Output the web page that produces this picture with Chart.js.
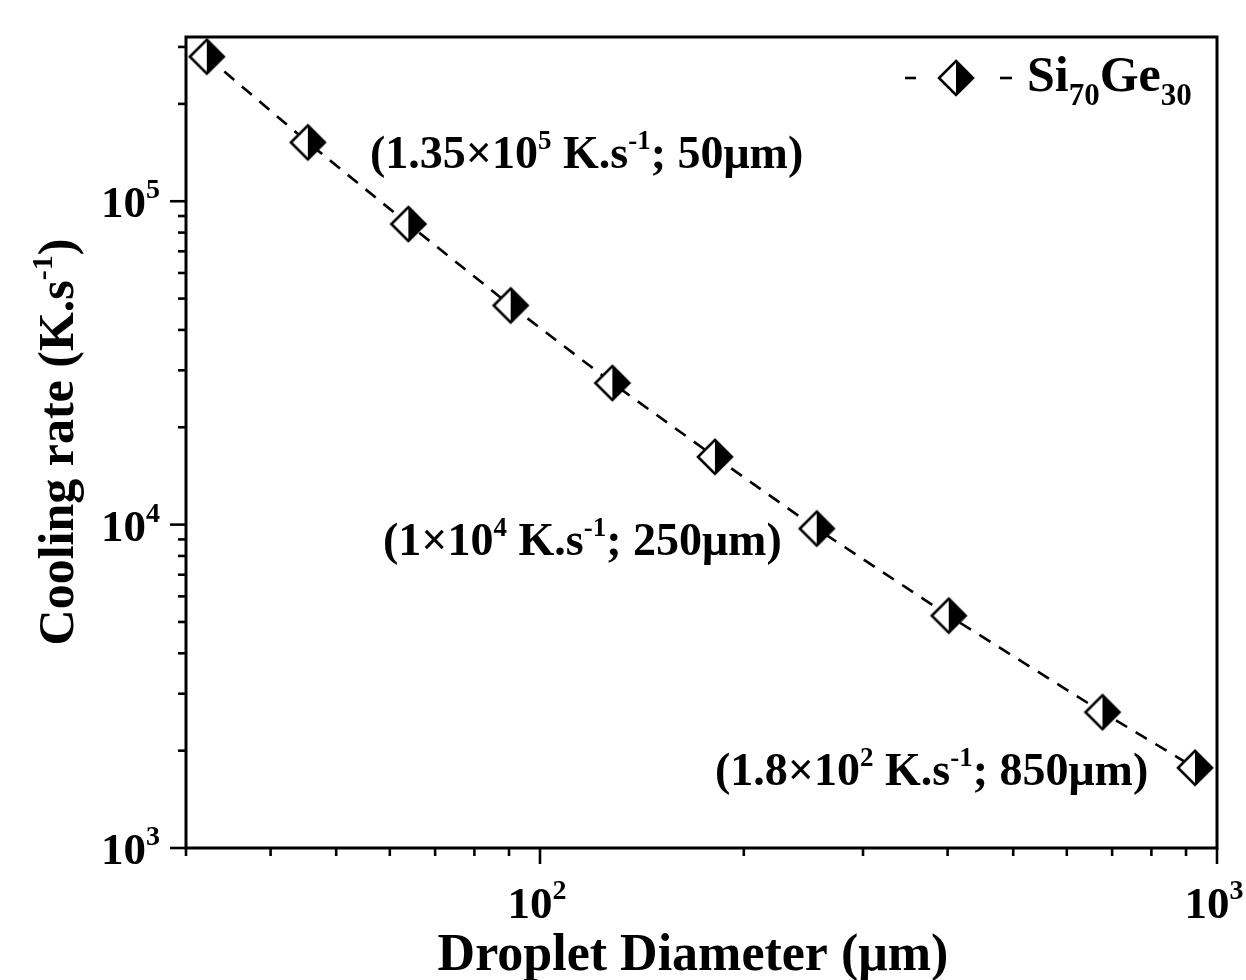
<!DOCTYPE html>
<html>
<head>
<meta charset="utf-8">
<script src="https://cdn.jsdelivr.net/npm/chart.js"></script>
<style>
  html, body { margin: 0; padding: 0; background: #fff; }
  canvas { display: block; }
</style>
</head>
<body>
<canvas id="grafico" width="1246" height="980"></canvas>
<script>
// dados (log-log)
const diameters = [32.2, 45.4, 63.9, 90.5, 127.9, 181.3, 256.3, 401.5, 677.4, 927.9];
const coolingRates = [2.80e5, 1.52e5, 8.50e4, 4.76e4, 2.74e4, 1.62e4, 9.72e3, 5.23e3, 2.63e3, 1.77e3];
const seriesName = ['Si', '70', 'Ge', '30'];

// rotulos dos eixos
const xTickValues = [100, 1000];
const xTickExp = ['2', '3'];
const yTickValues = [1e3, 1e4, 1e5];
const yTickExp = ['3', '4', '5'];

const FONT = '"Liberation Serif", "Times New Roman", serif';

// marcador: losango meio branco / meio preto
function halfDiamond() {
    const c = document.createElement('canvas');
    c.width = 42; c.height = 42;
    const g = c.getContext('2d');
    const m = 21, r = 17;
    g.fillStyle = '#fff';
    g.beginPath(); g.moveTo(m, m - r); g.lineTo(m - r, m); g.lineTo(m, m + r); g.closePath(); g.fill();
    g.fillStyle = '#000';
    g.beginPath(); g.moveTo(m, m - r); g.lineTo(m + r, m); g.lineTo(m, m + r); g.closePath(); g.fill();
    g.strokeStyle = '#000'; g.lineWidth = 2.6; g.lineJoin = 'miter';
    g.beginPath(); g.moveTo(m, m - r); g.lineTo(m + r, m); g.lineTo(m, m + r); g.lineTo(m - r, m); g.closePath(); g.stroke();
    return c;
}
const marker = halfDiamond();

// texto com sobrescrito (^) e subscrito (_)
function drawRich(ctx, parts, x, y, size, small, align) {
    const widths = parts.map(p => {
        ctx.font = 'bold ' + (p[1] ? small : size) + 'px ' + FONT;
        return ctx.measureText(p[0]).width;
    });
    const total = widths.reduce((a, b) => a + b, 0);
    let cx = align === 'center' ? x - total / 2 : align === 'right' ? x - total : x;
    ctx.textAlign = 'left';
    ctx.textBaseline = 'alphabetic';
    parts.forEach((p, i) => {
        ctx.font = 'bold ' + (p[1] ? small : size) + 'px ' + FONT;
        let dy = 0;
        if (p[1] === '^') dy = -size * 0.42;
        if (p[1] === '_') dy = size * 0.28;
        ctx.fillText(p[0], cx, y + dy);
        cx += widths[i];
    });
}

const annotations = [
    { parts: [['(1.35×10', ''], ['5', '^'], [' K.s', ''], ['-1', '^'], ['; 50μm)', '']], x: 370, y: 168 },
    { parts: [['(1×10', ''], ['4', '^'], [' K.s', ''], ['-1', '^'], ['; 250μm)', '']], x: 383, y: 555 },
    { parts: [['(1.8×10', ''], ['2', '^'], [' K.s', ''], ['-1', '^'], ['; 850μm)', '']], x: 715, y: 785 }
];

const decor = {
    id: 'decor',
    afterDraw(chart) {
        const ctx = chart.ctx;
        const a = chart.chartArea;
        const xs = chart.scales.x, ys = chart.scales.y;
        ctx.save();
        ctx.strokeStyle = '#000';
        ctx.fillStyle = '#000';
        ctx.lineWidth = 3;
        ctx.strokeRect(a.left, a.top, a.right - a.left, a.bottom - a.top);

        // marcas do eixo y
        ctx.lineWidth = 2.6;
        for (let d = 1e3; d <= ys.max; d *= 10) {
            for (let k = 1; k <= 9; k++) {
                const v = d * k;
                if (v > ys.max) break;
                const py = ys.getPixelForValue(v);
                const len = k === 1 ? 16 : 8;
                ctx.beginPath(); ctx.moveTo(a.left - len, py); ctx.lineTo(a.left, py); ctx.stroke();
            }
        }
        // marcas do eixo x
        for (let d = 10; d <= xs.max; d *= 10) {
            for (let k = 1; k <= 9; k++) {
                const v = d * k;
                if (v < xs.min || v > xs.max) continue;
                const px = xs.getPixelForValue(v);
                const len = k === 1 ? 16 : 8;
                ctx.beginPath(); ctx.moveTo(px, a.bottom); ctx.lineTo(px, a.bottom + len); ctx.stroke();
            }
        }

        // rotulos
        yTickValues.forEach((v, i) => {
            drawRich(ctx, [['10', ''], [yTickExp[i], '^']], 160, ys.getPixelForValue(v) + 16, 45, 28, 'right');
        });
        xTickValues.forEach((v, i) => {
            drawRich(ctx, [['10', ''], [xTickExp[i], '^']], xs.getPixelForValue(v) - 3, 918, 45, 28, 'center');
        });

        // titulos
        drawRich(ctx, [['Droplet Diameter (μm)', '']], 693, 970, 52, 30, 'center');
        ctx.save();
        ctx.translate(73, 442);
        ctx.rotate(-Math.PI / 2);
        drawRich(ctx, [['Cooling rate (K.s', ''], ['-1', '^'], [')', '']], 0, 0, 50, 30, 'center');
        ctx.restore();

        // anotacoes
        annotations.forEach(n => drawRich(ctx, n.parts, n.x, n.y, 46, 27, 'left'));

        // legenda
        ctx.lineWidth = 2.6;
        ctx.beginPath(); ctx.moveTo(905, 78); ctx.lineTo(916, 78); ctx.stroke();
        ctx.beginPath(); ctx.moveTo(1000, 78); ctx.lineTo(1012, 78); ctx.stroke();
        ctx.drawImage(marker, 956 - 21, 78 - 21);
        drawRich(ctx, [[seriesName[0], ''], [seriesName[1], '_'], [seriesName[2], ''], [seriesName[3], '_']],
            1027, 91, 50, 31, 'left');
        ctx.restore();
    }
};

new Chart(document.getElementById('grafico'), {
    type: 'scatter',
    data: {
        datasets: [{
            label: 'Si70Ge30',
            data: diameters.map((d, i) => ({ x: d, y: coolingRates[i] })),
            showLine: true,
            borderColor: '#000',
            borderWidth: 2.6,
            borderDash: [13, 10],
            pointStyle: marker,
            pointRadius: 18,
            pointHoverRadius: 18,
            clip: false
        }]
    },
    options: {
        responsive: false,
        animation: false,
        events: [],
        layout: { padding: { top: 37, right: 29, left: 0, bottom: 0 } },
        plugins: { legend: { display: false }, tooltip: { enabled: false } },
        scales: {
            x: {
                type: 'logarithmic', min: 30, max: 1000,
                grid: { display: false }, border: { display: false },
                ticks: { display: false },
                afterFit: s => { s.height = 132; }
            },
            y: {
                type: 'logarithmic', min: 1000, max: 3.22e5,
                grid: { display: false }, border: { display: false },
                ticks: { display: false },
                afterFit: s => { s.width = 186; }
            }
        }
    },
    plugins: [decor]
});
</script>
</body>
</html>
